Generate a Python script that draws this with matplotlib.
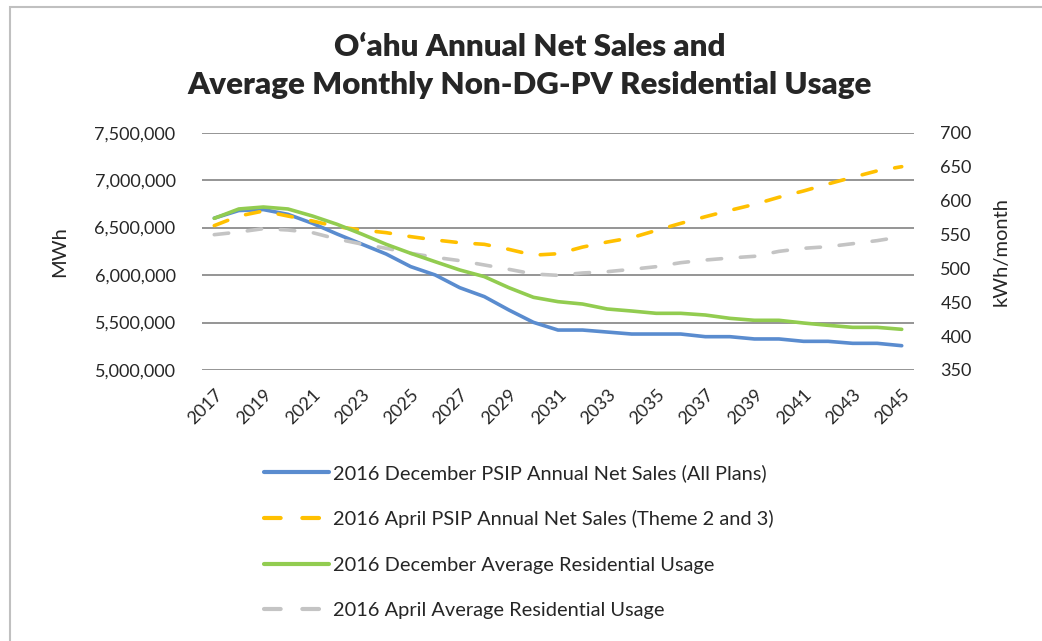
"""O'ahu annual net sales and average monthly non-DG-PV residential usage."""

import matplotlib.pyplot as plt
from matplotlib.patches import Rectangle
from matplotlib.ticker import FuncFormatter, MultipleLocator

plt.rcParams['font.family'] = ['Lato', 'DejaVu Sans']

years = list(range(2017, 2046))

# MWh (left axis)
dec_net_sales = [
    6600000, 6680000, 6690000, 6640000, 6545000, 6433000, 6327000, 6222000,
    6089000, 6001000, 5867000, 5773000, 5632000, 5502000, 5421000, 5421000,
    5400000, 5379000, 5379000, 5379000, 5351000, 5351000, 5327000, 5327000,
    5302000, 5302000, 5281000, 5281000, 5256000,
]
apr_net_sales = [
    6521000, 6622000, 6675000, 6622000, 6570000, 6510000, 6475000, 6447000,
    6405000, 6370000, 6341000, 6324000, 6271000, 6210000, 6225000, 6295000,
    6348000, 6394000, 6470000, 6545000, 6615000, 6682000, 6745000, 6820000,
    6886000, 6960000, 7030000, 7098000, 7142000,
]

# kWh/month (right axis)
dec_res_usage = [
    573.7, 587.5, 590.4, 587.5, 577.1, 564.9, 550.6, 535.4, 522.1, 509.7,
    497.5, 487.7, 471.4, 457.2, 450.8, 447.3, 440.0, 437.0, 433.6, 433.6,
    431.1, 426.2, 423.3, 423.3, 419.3, 415.9, 412.9, 412.9, 410.0,
]
apr_res_usage = [
    549.6, 553.5, 558.5, 556.5, 552.6, 543.2, 535.8, 529.5, 522.1, 516.2,
    511.3, 504.9, 498.5, 491.6, 489.6, 493.1, 495.0, 498.5, 502.4, 508.3,
    512.2, 515.2, 517.7, 525.0, 529.5, 531.9, 536.3, 540.8, 546.6,
]

labels = [
    "2016 December PSIP Annual Net Sales (All Plans)",
    "2016 April PSIP Annual Net Sales (Theme 2 and 3)",
    "2016 December Average Residential Usage",
    "2016 April Average Residential Usage",
]

BLUE = "#5a8ccf"
YELLOW = "#ffc000"
GREEN = "#92cc50"
GREY = "#c4c4c4"
TEXT = "#262626"

fig = plt.figure(figsize=(10.42, 6.41), dpi=100)
fig.patches.append(Rectangle((10 / 1042, -0.1), 1.1, 1 - 7 / 641 + 0.1,
                             transform=fig.transFigure, fill=False,
                             edgecolor="#c0c0c0", linewidth=1.5))

ax = fig.add_axes([202 / 1042, 1 - 370 / 641, 712 / 1042, 237.3 / 641])
ax2 = ax.twinx()

lw = 2.6
dash = (4.0, 5.2)
l1, = ax.plot(years, dec_net_sales, color=BLUE, lw=lw, solid_capstyle="round",
              solid_joinstyle="round", zorder=3)
l2, = ax.plot(years, apr_net_sales, color=YELLOW, lw=lw, dashes=dash,
              dash_capstyle="round", zorder=3)
l3, = ax2.plot(years, dec_res_usage, color=GREEN, lw=lw, solid_capstyle="round",
               solid_joinstyle="round", zorder=3)
l4, = ax2.plot(years, apr_res_usage, color=GREY, lw=lw, dashes=dash,
               dash_capstyle="round", zorder=2)

# draw order like the original: grey behind, green on top
ax.set_zorder(1)
ax2.set_zorder(2)
ax2.patch.set_visible(False)

ax.set_xlim(2016.5, 2045.5)
ax.set_ylim(5000000, 7500000)
ax2.set_ylim(350, 700)
ax.yaxis.set_major_locator(MultipleLocator(500000))
ax2.yaxis.set_major_locator(MultipleLocator(50))
ax.yaxis.set_major_formatter(FuncFormatter(lambda v, _: f"{v:,.0f}"))

ax.set_xticks(years[::2])
ax.set_xticklabels([str(y) for y in years[::2]], rotation=45, ha="right",
                   va="top", rotation_mode="anchor")

ax.grid(axis="y", color="#8c8c8c", linewidth=1.3)
ax.set_axisbelow(True)
for a in (ax, ax2):
    for s in a.spines.values():
        s.set_visible(False)
    a.tick_params(length=0, labelsize=13, colors=TEXT)
ax.tick_params(axis="y", pad=19)
ax2.tick_params(axis="y", pad=19)
ax.tick_params(axis="x", pad=12)

ax.set_ylabel("MWh", fontsize=14.5, color=TEXT, labelpad=19)
ax2.set_ylabel("kWh/month", fontsize=14.5, color=TEXT, labelpad=15)

fig.text(0.508, 1 - 47 / 641, "O\u2018ahu Annual Net Sales and", ha="center",
         va="center", fontsize=22.5, fontweight="heavy", color=TEXT)
fig.text(0.508, 1 - 85 / 641, "Average Monthly Non-DG-PV Residential Usage",
         ha="center", va="center", fontsize=22.5, fontweight="heavy", color=TEXT)

leg = fig.legend([l1, l2, l3, l4], labels, loc="upper left",
                 bbox_to_anchor=(246 / 1042, 1 - 446 / 641), frameon=False,
                 fontsize=14.4, handlelength=3.25, handletextpad=0.2,
                 labelspacing=1.42, labelcolor=TEXT)
for h in leg.legend_handles:
    h.set_linewidth(3.0)

fig.savefig("out.png", dpi=100)
